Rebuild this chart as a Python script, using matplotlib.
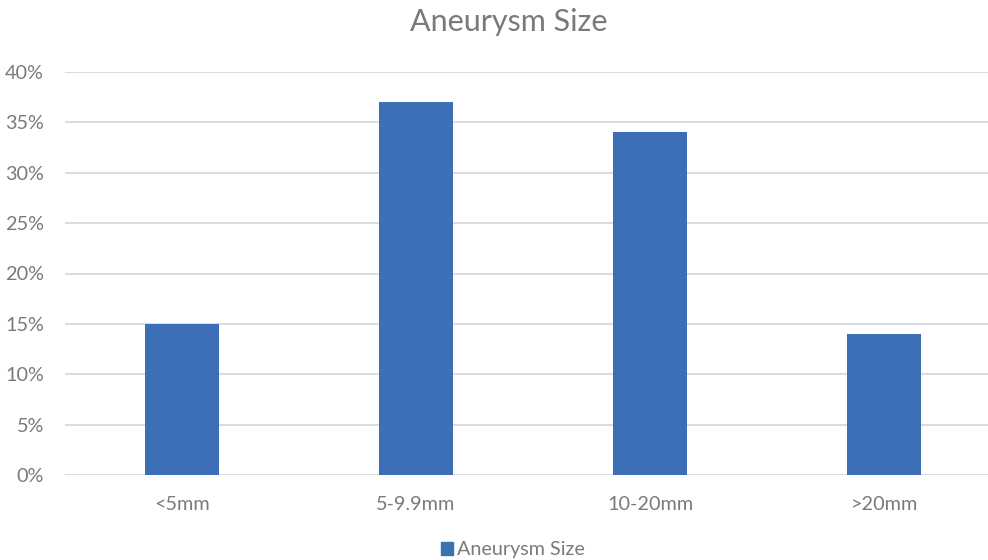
import matplotlib
matplotlib.use("Agg")
import matplotlib.pyplot as plt
from matplotlib.ticker import MultipleLocator, FuncFormatter
from matplotlib.patches import Patch

categories = ["<5mm", "5-9.9mm", "10-20mm", ">20mm"]
values = [15, 37, 34, 14]
series_name = "Aneurysm Size"
title = "Aneurysm Size"

bar_color = "#3D6FB6"
text_color = "#7A7A7A"
grid_color = "#D9D9D9"

plt.rcParams["font.family"] = ["Lato", "DejaVu Sans"]

W, H = 988, 560
fig = plt.figure(figsize=(W / 100, H / 100), dpi=100)
left, right = 65, 1001
top, bottom = 72, 475
ax = fig.add_axes([left / W, 1 - bottom / H, (right - left) / W, (bottom - top) / H])

x = range(len(categories))
ax.bar(x, values, width=0.312, color=bar_color, zorder=3)

ax.set_xlim(-0.5, len(categories) - 0.5)
ax.set_ylim(0, 40)
ax.yaxis.set_major_locator(MultipleLocator(5))
ax.yaxis.set_major_formatter(FuncFormatter(lambda v, _: f"{v:.0f}%"))
ax.set_xticks(list(x))
ax.set_xticklabels(categories)

ax.grid(axis="y", color=grid_color, linewidth=1.3, zorder=0)
ax.set_axisbelow(True)
for s in ax.spines.values():
    s.set_visible(False)
ax.tick_params(axis="both", length=0, colors=text_color, labelsize=14.3)
ax.tick_params(axis="y", pad=15)
ax.tick_params(axis="x", pad=15)

fig.text(509 / W, 1 - 22 / H, title, ha="center", va="center",
         fontsize=22, color=text_color)

leg = fig.legend(handles=[Patch(color=bar_color, label=series_name)],
                 loc="center", bbox_to_anchor=(513 / W, 1 - 550 / H),
                 frameon=False, fontsize=14.2, handlelength=0.6,
                 handleheight=0.6, handletextpad=0.25)
for t in leg.get_texts():
    t.set_color(text_color)

fig.savefig("out.png", dpi=100)
